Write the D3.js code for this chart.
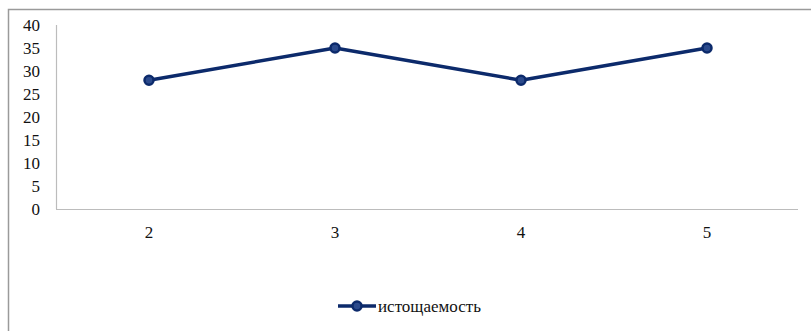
<!DOCTYPE html>
<html>
<head>
<meta charset="utf-8">
<script src="https://cdn.jsdelivr.net/npm/d3@7"></script>
<style>
  body { margin: 0; background: #fff; }
</style>
</head>
<body>
<div class="chart"></div>
<script>
var categories = ["2", "3", "4", "5"];
var values = [28, 35, 28, 35];
var seriesName = "истощаемость";
var yTicks = [0, 5, 10, 15, 20, 25, 30, 35, 40];

var width = 811, height = 331,
    margin = {top: 25, right: 12, bottom: 122, left: 56},
    lineColor = "#0c2a6b",
    fontFam = "'Liberation Serif', 'DejaVu Serif', serif";

var svg = d3.select(".chart")
  .append("svg")
    .attr("width", width)
    .attr("height", height)
    .style("font-family", fontFam);

// outer frame (only top and left edges show in the picture)
svg.append("path")
  .attr("d", "M8.5," + height + "V9.5H" + width)
  .style("fill", "none")
  .style("stroke", "#9a9a9a")
  .style("stroke-width", 1.5);

var x = d3.scaleBand()
  .domain(categories)
  .range([margin.left, margin.left + 744]);

var y = d3.scaleLinear()
  .domain([0, 40])
  .range([height - margin.bottom, margin.top]);

// axis lines
svg.append("line")
  .attr("x1", margin.left + 0.5).attr("x2", margin.left + 0.5)
  .attr("y1", y(40)).attr("y2", y(0))
  .style("stroke", "#bcbcbc").style("stroke-width", 1.2);

svg.append("line")
  .attr("x1", margin.left).attr("x2", margin.left + 742)
  .attr("y1", y(0) + 0.5).attr("y2", y(0) + 0.5)
  .style("stroke", "#bcbcbc").style("stroke-width", 1.2);

// y tick labels
svg.selectAll(".ytick")
  .data(yTicks)
  .enter().append("text")
    .attr("class", "ytick")
    .attr("x", 40)
    .attr("y", function(d) { return y(d); })
    .attr("dy", "0.35em")
    .attr("text-anchor", "end")
    .attr("font-family", fontFam)
    .style("font-size", "17px")
    .style("fill", "#111")
    .text(function(d) { return d; });

// x tick labels
svg.selectAll(".xtick")
  .data(categories)
  .enter().append("text")
    .attr("class", "xtick")
    .attr("x", function(d) { return x(d) + x.bandwidth() / 2; })
    .attr("y", y(0) + 23)
    .attr("dy", "0.35em")
    .attr("text-anchor", "middle")
    .attr("font-family", fontFam)
    .style("font-size", "17px")
    .style("fill", "#111")
    .text(function(d) { return d; });

var pts = categories.map(function(c, i) { return {c: c, v: values[i]}; });

var line = d3.line()
  .x(function(d) { return x(d.c) + x.bandwidth() / 2; })
  .y(function(d) { return y(d.v); });

svg.append("path")
  .datum(pts)
  .attr("d", line)
  .style("fill", "none")
  .style("stroke", lineColor)
  .style("stroke-width", 3.5)
  .style("stroke-linejoin", "round");

svg.selectAll(".pt")
  .data(pts)
  .enter().append("circle")
    .attr("class", "pt")
    .attr("cx", function(d) { return x(d.c) + x.bandwidth() / 2; })
    .attr("cy", function(d) { return y(d.v); })
    .attr("r", 4.5)
    .style("fill", "#2b4a8c")
    .style("stroke", lineColor)
    .style("stroke-width", 2.5);

// legend
var lg = svg.append("g").attr("transform", "translate(338,306)");
lg.append("line")
  .attr("x1", 0).attr("x2", 38)
  .style("stroke", lineColor).style("stroke-width", 3.5);
lg.append("circle")
  .attr("cx", 19).attr("r", 4.5)
  .style("fill", "#2b4a8c")
  .style("stroke", lineColor)
  .style("stroke-width", 2.5);
lg.append("text")
  .attr("x", 40)
  .attr("dy", "0.35em")
  .attr("font-family", fontFam)
  .style("font-size", "17px")
  .style("fill", "#111")
  .text(seriesName);
</script>
</body>
</html>
